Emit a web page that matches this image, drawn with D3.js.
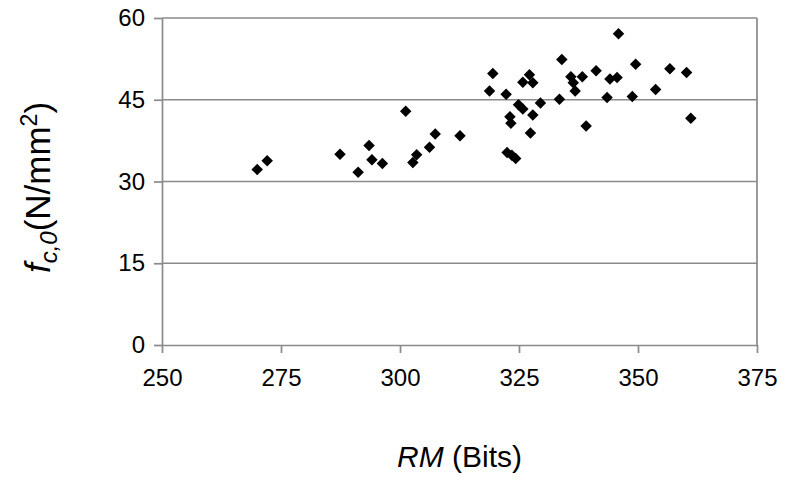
<!DOCTYPE html>
<html>
<head>
<meta charset="utf-8">
<script src="https://cdn.jsdelivr.net/npm/d3@7"></script>
<style>
  body { margin: 0; background: #fff; }
  svg text { font-family: Arial, "Liberation Sans", sans-serif; fill: #000; }
</style>
</head>
<body>
<div id="chart"></div>
<script>
// data
var rmValues = [270.0, 272.1, 287.4, 291.2, 293.5, 294.1, 296.3, 301.2, 302.7, 303.5,
  306.2, 307.4, 312.6, 318.8, 319.5, 322.3, 322.5, 323.1, 323.3, 323.5,
  324.3, 324.9, 325.8, 325.8, 327.2, 327.4, 327.9, 327.9, 329.5, 333.5,
  334.0, 335.9, 336.4, 336.8, 338.3, 339.1, 341.2, 343.5, 344.1, 345.6,
  345.9, 348.8, 349.5, 353.7, 356.7, 360.2, 361.1];
var fcValues = [32.2, 33.8, 35.0, 31.7, 36.6, 34.0, 33.3, 42.9, 33.5, 34.9,
  36.3, 38.7, 38.4, 46.6, 49.8, 46.0, 35.3, 41.9, 40.7, 34.8,
  34.2, 44.1, 43.3, 48.2, 49.6, 38.9, 48.1, 42.2, 44.4, 45.1,
  52.4, 49.2, 48.1, 46.6, 49.2, 40.2, 50.3, 45.4, 48.8, 49.1,
  57.1, 45.6, 51.5, 46.9, 50.7, 50.0, 41.6];
var xTicks = [250, 275, 300, 325, 350, 375];
var yTicks = [0, 15, 30, 45, 60];

var W = 792, H = 482;
var margin = {top: 18, right: 35, bottom: 137, left: 162};
var width = W - margin.left - margin.right,
    height = H - margin.top - margin.bottom;
var gridColor = '#8a8a8a';

var svg = d3.select('#chart').append('svg')
  .attr('width', W)
  .attr('height', H);

var g = svg.append('g')
  .attr('transform', 'translate(' + margin.left + ',' + margin.top + ')');

var x = d3.scaleLinear().domain([250, 375]).range([0, width]);
var y = d3.scaleLinear().domain([0, 60]).range([height, 0]);

// horizontal gridlines
g.selectAll('.grid')
  .data(yTicks.slice(1))
  .enter().append('line')
  .attr('class', 'grid')
  .attr('x1', 0).attr('x2', width)
  .attr('y1', function(d){ return y(d); })
  .attr('y2', function(d){ return y(d); })
  .attr('stroke', gridColor)
  .attr('stroke-width', 1.7);

// right border
g.append('line')
  .attr('x1', width).attr('x2', width)
  .attr('y1', 0).attr('y2', height)
  .attr('stroke', gridColor)
  .attr('stroke-width', 1.7);

// y axis
var yAxis = g.append('g')
  .call(d3.axisLeft(y).tickValues(yTicks).tickSize(8).tickPadding(9).tickSizeOuter(0));
// x axis
var xAxis = g.append('g')
  .attr('transform', 'translate(0,' + height + ')')
  .call(d3.axisBottom(x).tickValues(xTicks).tickSize(8).tickPadding(16).tickSizeOuter(0));

[xAxis, yAxis].forEach(function(ax){
  ax.select('.domain').attr('stroke', gridColor).attr('stroke-width', 1.7);
  ax.selectAll('.tick line').attr('stroke', gridColor).attr('stroke-width', 1.7);
  ax.selectAll('.tick text')
    .style('font-family', 'Arial, "Liberation Sans", sans-serif')
    .style('font-size', '24px')
    .attr('fill', '#000');
});

// points
var pts = rmValues.map(function(v, i){ return {rm: v, fc: fcValues[i]}; });
g.selectAll('.pt')
  .data(pts)
  .enter().append('path')
  .attr('class', 'pt')
  .attr('d', d3.symbol().type(d3.symbolSquare).size(66))
  .attr('transform', function(d){
    return 'translate(' + x(d.rm) + ',' + y(d.fc) + ') rotate(45)';
  })
  .attr('fill', '#000');

// x axis title
var xt = svg.append('text')
  .attr('x', margin.left + width / 2)
  .attr('y', 467)
  .attr('text-anchor', 'middle')
  .style('font-size', '30px');
xt.append('tspan').style('font-style', 'italic').text('RM');
xt.append('tspan').text(' (Bits)');

// y axis title
var yt = svg.append('text')
  .attr('transform', 'translate(50,' + (margin.top + height / 2 + 6) + ') rotate(-90)')
  .attr('text-anchor', 'middle')
  .style('font-size', '35px');
yt.append('tspan').style('font-style', 'italic').text('f');
yt.append('tspan').style('font-style', 'italic').style('font-size', '24px')
  .attr('dy', 7).text('c,0');
yt.append('tspan').attr('dy', -7).text('(N/mm');
yt.append('tspan').style('font-size', '23px').attr('dy', -13).text('2');
yt.append('tspan').attr('dy', 13).text(')');
</script>
</body>
</html>
